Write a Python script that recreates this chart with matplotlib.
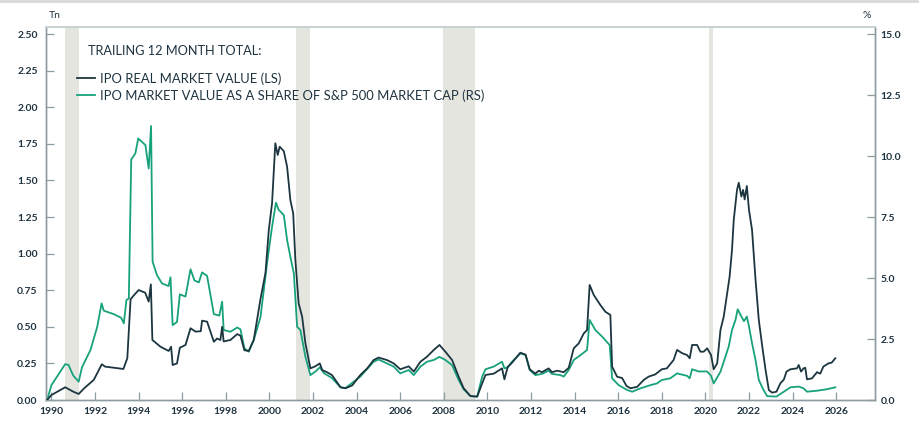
"""IPO market value, trailing 12 month total: real value (LS) and share of S&P 500 cap (RS)."""

import matplotlib

matplotlib.use("Agg")

import matplotlib.pyplot as plt
from matplotlib.lines import Line2D

plt.rcParams["font.family"] = ["Lato", "DejaVu Sans"]

# IPO real market value, Tn (left scale)
real_year = [
    1989.8, 1990.0, 1990.63, 1991.0, 1991.25, 1991.5, 1991.94, 1992.31, 1992.46, 1993.3,
    1993.48, 1993.63, 1993.75, 1994.0, 1994.3, 1994.46, 1994.56, 1994.63, 1995.0, 1995.38,
    1995.49, 1995.56, 1995.76, 1995.89, 1996.15, 1996.38, 1996.61, 1996.85, 1996.91, 1997.14,
    1997.45, 1997.6, 1997.75, 1997.83, 1997.9, 1998.21, 1998.52, 1998.67, 1998.85, 1999.05,
    1999.28, 1999.59, 1999.82, 1999.97, 2000.12, 2000.27, 2000.38, 2000.47, 2000.66, 2000.81,
    2000.96, 2001.09, 2001.19, 2001.34, 2001.5, 2001.65, 2001.88, 2002.1, 2002.31, 2002.42,
    2002.64, 2002.87, 2003.26, 2003.49, 2003.8, 2004.17, 2004.48, 2004.78, 2005.01, 2005.39,
    2005.7, 2006.0, 2006.39, 2006.62, 2006.93, 2007.23, 2007.54, 2007.8, 2008.07, 2008.38,
    2008.68, 2008.91, 2009.22, 2009.53, 2009.76, 2009.91, 2010.29, 2010.67, 2010.78, 2010.93,
    2011.13, 2011.51, 2011.75, 2011.94, 2012.2, 2012.35, 2012.5, 2012.81, 2012.96, 2013.2,
    2013.5, 2013.73, 2013.96, 2014.19, 2014.42, 2014.57, 2014.69, 2014.88, 2015.18, 2015.41,
    2015.64, 2015.72, 2015.95, 2016.18, 2016.38, 2016.56, 2016.87, 2017.17, 2017.4, 2017.7,
    2018.0, 2018.23, 2018.54, 2018.7, 2018.93, 2019.16, 2019.28, 2019.39, 2019.62, 2019.77,
    2019.92, 2020.08, 2020.26, 2020.38, 2020.54, 2020.69, 2020.84, 2021.0, 2021.11, 2021.22,
    2021.3, 2021.45, 2021.53, 2021.65, 2021.73, 2021.8, 2021.9, 2022.0, 2022.14, 2022.3,
    2022.45, 2022.61, 2022.76, 2022.91, 2023.06, 2023.26, 2023.44, 2023.6, 2023.72, 2023.9,
    2024.2, 2024.28, 2024.39, 2024.5, 2024.58, 2024.66, 2024.89, 2025.12, 2025.27, 2025.41,
    2025.64, 2025.79, 2025.96,
]
real_tn = [
    0.0, 0.034, 0.087, 0.057, 0.041, 0.08, 0.137, 0.244, 0.228, 0.212,
    0.285, 0.688, 0.71, 0.751, 0.733, 0.672, 0.79, 0.41, 0.364, 0.335,
    0.364, 0.239, 0.25, 0.357, 0.376, 0.49, 0.467, 0.47, 0.542, 0.535,
    0.398, 0.42, 0.41, 0.50, 0.40, 0.41, 0.45, 0.44, 0.34, 0.335,
    0.41, 0.69, 0.87, 1.16, 1.344, 1.754, 1.674, 1.73, 1.70, 1.594,
    1.366, 1.275, 0.956, 0.66, 0.569, 0.387, 0.216, 0.23, 0.25, 0.205,
    0.19, 0.17, 0.087, 0.08, 0.10, 0.171, 0.215, 0.273, 0.29, 0.273,
    0.25, 0.21, 0.23, 0.194, 0.262, 0.296, 0.342, 0.376, 0.33, 0.273,
    0.159, 0.08, 0.027, 0.023, 0.114, 0.171, 0.18, 0.216, 0.141, 0.225,
    0.255, 0.323, 0.31, 0.21, 0.18, 0.2, 0.19, 0.216, 0.19, 0.2,
    0.19, 0.22, 0.353, 0.387, 0.455, 0.478, 0.786, 0.717, 0.649, 0.603,
    0.581, 0.228, 0.159, 0.15, 0.096, 0.08, 0.09, 0.137, 0.16, 0.175,
    0.21, 0.216, 0.273, 0.342, 0.32, 0.307, 0.285, 0.376, 0.376, 0.33,
    0.33, 0.353, 0.307, 0.21, 0.25, 0.478, 0.569, 0.729, 0.842, 1.025,
    1.23, 1.435, 1.484, 1.39, 1.435, 1.37, 1.462, 1.298, 1.161, 0.82,
    0.546, 0.364, 0.205, 0.068, 0.05, 0.057, 0.114, 0.14, 0.194, 0.21,
    0.216, 0.239, 0.194, 0.216, 0.22, 0.141, 0.148, 0.19, 0.18, 0.228,
    0.25, 0.255, 0.285,
]

# IPO market value as a share of S&P 500 market cap, % (right scale)
share_year = [
    1989.8, 1990.0, 1990.63, 1990.78, 1991.0, 1991.25, 1991.4, 1991.79, 1992.1, 1992.3,
    1992.4, 1992.86, 1993.2, 1993.32, 1993.44, 1993.55, 1993.66, 1993.85, 1993.98, 1994.31,
    1994.46, 1994.57, 1994.64, 1994.84, 1995.07, 1995.37, 1995.46, 1995.56, 1995.76, 1995.89,
    1996.15, 1996.38, 1996.56, 1996.76, 1996.91, 1997.14, 1997.45, 1997.7, 1997.83, 1997.9,
    1998.21, 1998.52, 1998.67, 1998.85, 1999.05, 1999.28, 1999.59, 1999.9, 2000.12, 2000.3,
    2000.42, 2000.66, 2000.81, 2000.96, 2001.12, 2001.27, 2001.42, 2001.65, 2001.88, 2002.1,
    2002.31, 2002.5, 2002.87, 2003.26, 2003.49, 2004.17, 2004.78, 2005.01, 2005.39, 2005.7,
    2006.0, 2006.39, 2006.62, 2006.93, 2007.23, 2007.54, 2007.8, 2008.07, 2008.38, 2008.68,
    2008.91, 2009.22, 2009.53, 2009.76, 2009.91, 2010.29, 2010.67, 2010.78, 2010.93, 2011.13,
    2011.51, 2011.75, 2011.94, 2012.2, 2012.5, 2012.81, 2012.96, 2013.35, 2013.5, 2013.73,
    2013.96, 2014.27, 2014.57, 2014.69, 2014.95, 2015.26, 2015.61, 2015.72, 2016.02, 2016.41,
    2016.64, 2017.02, 2017.48, 2017.78, 2018.0, 2018.39, 2018.7, 2019.16, 2019.28, 2019.39,
    2019.69, 2020.08, 2020.26, 2020.38, 2020.69, 2020.92, 2021.07, 2021.22, 2021.38, 2021.48,
    2021.65, 2021.77, 2021.9, 2022.0, 2022.14, 2022.3, 2022.45, 2022.65, 2022.83, 2023.26,
    2023.6, 2023.9, 2024.28, 2024.5, 2024.66, 2025.12, 2025.56, 2025.96,
]
share_pct = [
    0.0, 0.61, 1.47, 1.44, 1.0, 0.75, 1.34, 2.05, 3.0, 3.96,
    3.66, 3.52, 3.37, 3.14, 4.1, 4.16, 9.86, 10.11, 10.72, 10.45,
    9.49, 11.23, 5.67, 5.12, 4.78, 4.67, 5.03, 3.07, 3.2, 4.33,
    4.24, 5.36, 4.9, 4.82, 5.23, 5.09, 3.52, 3.46, 4.03, 2.87,
    2.8, 2.97, 2.9, 2.12, 1.98, 2.46, 3.4, 5.67, 7.1, 8.09,
    7.8, 7.58, 6.56, 5.87, 5.19, 3.0, 2.87, 1.77, 1.02, 1.16,
    1.34, 1.1, 0.9, 0.52, 0.49, 0.96, 1.57, 1.66, 1.5, 1.37,
    1.09, 1.23, 1.02, 1.37, 1.57, 1.64, 1.77, 1.64, 1.43, 0.82,
    0.44, 0.16, 0.14, 0.96, 1.26, 1.37, 1.57, 1.3, 1.34, 1.57,
    1.91, 1.84, 1.23, 1.02, 1.07, 1.2, 1.07, 1.02, 0.96, 1.23,
    1.64, 1.84, 2.05, 3.28, 2.87, 2.6, 2.25, 0.89, 0.61, 0.41,
    0.34, 0.48, 0.61, 0.68, 0.82, 0.89, 1.09, 0.99, 0.89, 1.26,
    1.17, 1.17, 0.99, 0.68, 1.16, 1.78, 2.19, 2.87, 3.28, 3.72,
    3.42, 3.23, 3.42, 3.01, 2.32, 1.64, 0.82, 0.44, 0.16, 0.14,
    0.34, 0.52, 0.55, 0.48, 0.34, 0.38, 0.44, 0.52,
]

# US recessions (start, end) in decimal years
recessions = [(1990.6, 1991.25), (2001.2, 2001.88), (2007.95, 2009.45), (2020.15, 2020.33)]

year_ticks = list(range(1990, 2027, 2))
left_ticks = [0.0, 0.25, 0.5, 0.75, 1.0, 1.25, 1.5, 1.75, 2.0, 2.25, 2.5]
right_ticks = [0.0, 2.5, 5.0, 7.5, 10.0, 12.5, 15.0]

DARK = "#1c3640"
GREEN = "#17a27b"
BAND = "#e5e5e0"
SPINE = "#8d9ca0"
TEXT = "#1e3340"


def main() -> None:
    fig = plt.figure(figsize=(9.2, 4.4), dpi=100)
    ax = fig.add_axes([46 / 920, 40 / 440, 829 / 920, 373 / 440])
    ax2 = ax.twinx()

    # bands sit on the lower (right-scale) axes so both lines draw over them
    for start, end in recessions:
        ax2.axvspan(start, end, color=BAND, lw=0, zorder=0)

    ax2.plot(share_year, share_pct, color=GREEN, lw=1.3, zorder=2)
    ax.plot(real_year, real_tn, color=DARK, lw=1.3, zorder=3)
    ax.set_zorder(ax2.get_zorder() + 1)
    ax.patch.set_visible(False)

    ax.set_xlim(1989.75, 2027.78)
    ax.set_ylim(0, 2.548)
    ax2.set_ylim(0, 15.29)

    ax.set_xticks(year_ticks)
    ax.set_xticklabels([str(y) for y in year_ticks])
    ax.set_yticks(left_ticks)
    ax.set_yticklabels([f"{v:.2f}" for v in left_ticks])
    ax2.set_yticks(right_ticks)
    ax2.set_yticklabels([f"{v:.1f}" for v in right_ticks])

    for a in (ax, ax2):
        a.tick_params(direction="in", length=6, width=0.9, color=SPINE,
                      labelsize=7.5, labelcolor=TEXT)
        for spine in a.spines.values():
            spine.set_color(SPINE)
            spine.set_linewidth(1.0)
        a.spines["top"].set_color("#c9d2d3")
        a.spines["top"].set_linewidth(1.4)
    ax.tick_params(axis="x", pad=5)
    ax.tick_params(axis="y", pad=6)
    ax2.tick_params(axis="y", pad=4)
    for lab in ax.get_xticklabels() + ax.get_yticklabels() + ax2.get_yticklabels():
        lab.set_fontweight("bold")

    ax.text(0.003, 1.02, "Tn", transform=ax.transAxes, fontsize=7.5, color=TEXT,
            ha="left", va="bottom")
    ax2.text(0.995, 1.02, "%", transform=ax2.transAxes, fontsize=7.5, color=TEXT,
             ha="right", va="bottom")

    ax.text(0.051, 0.935, "TRAILING 12 MONTH TOTAL:", transform=ax.transAxes,
            fontsize=9.2, color=TEXT, ha="left", va="center")
    handles = [
        Line2D([], [], color=DARK, lw=1.3),
        Line2D([], [], color=GREEN, lw=1.3),
    ]
    labels = [
        "IPO REAL MARKET VALUE (LS)",
        "IPO MARKET VALUE AS A SHARE OF S&P 500 MARKET CAP (RS)",
    ]
    leg = ax.legend(handles, labels, loc="upper left", bbox_to_anchor=(0.031, 0.893),
                    frameon=False, fontsize=9.4, handlelength=1.35, handletextpad=0.45,
                    labelspacing=0.35, borderaxespad=0)
    for t in leg.get_texts():
        t.set_color(TEXT)

    fig.add_artist(Line2D([0, 1], [0.997, 0.997], transform=fig.transFigure,
                          color="#d6d9d6", lw=2))
    fig.savefig("out.png", dpi=100)


if __name__ == "__main__":
    main()
